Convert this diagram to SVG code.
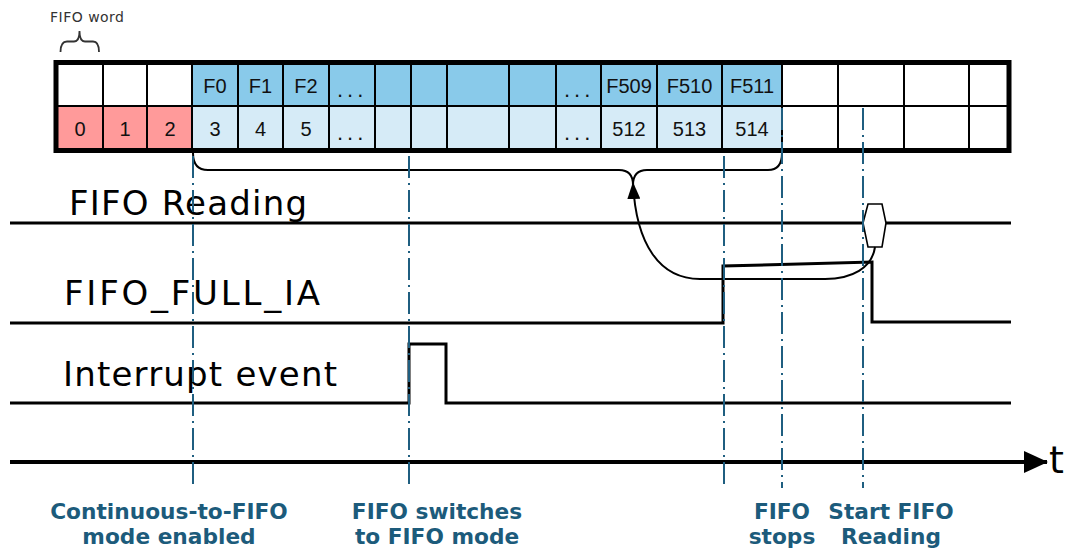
<svg xmlns="http://www.w3.org/2000/svg" width="1071" height="549" viewBox="0 0 1071 549">
<defs>
<style>
.cellt{font-family:"Liberation Sans",Arial,sans-serif;font-size:20px;fill:#111;text-anchor:middle}
.dots{font-family:"Liberation Sans",Arial,sans-serif;font-size:22px;fill:#111;letter-spacing:4px}
.sig{font-family:"DejaVu Sans",Verdana,sans-serif;font-size:34px;fill:#000}
.lbl{font-family:"DejaVu Sans",Verdana,sans-serif;font-size:21.7px;font-weight:bold;fill:#1C5B7B;text-anchor:middle}
.wave{fill:none;stroke:#000;stroke-width:3;stroke-linejoin:miter}
.grid{stroke:#000;stroke-width:2}
.mark{fill:none;stroke:#1F5E80;stroke-width:2;stroke-dasharray:22 5 2 5}
.dk{fill:#89CAEA}
.lt{fill:#D6EBF7}
.red{fill:#FF9A9A}
</style>
<marker id="ah" viewBox="0 0 17 13" refX="16" refY="6.5" markerWidth="17" markerHeight="13" markerUnits="userSpaceOnUse" orient="auto">
<path d="M0,0 L17,6.5 L0,13 z" fill="#000"/>
</marker>
<marker id="tah" viewBox="0 0 24 22" refX="23" refY="11" markerWidth="24" markerHeight="22" markerUnits="userSpaceOnUse" orient="auto">
<path d="M0,0 L24,11 L0,22 z" fill="#000"/>
</marker>
</defs>
<rect width="1071" height="549" fill="#fff"/>

<g id="fifo-word">
<text x="50" y="22" font-family="DejaVu Sans, Verdana, sans-serif" font-size="14" fill="#333" textLength="74">FIFO word</text>
<path d="M60.5,52 Q60.5,41.5 67,41.5 L74,41.5 Q79.5,41.5 79.5,31 Q79.5,41.5 85,41.5 L93,41.5 Q99,41.5 99,52" fill="none" stroke="#333" stroke-width="1.8"/>
</g>

<g id="fifo-table">
<rect x="58" y="64" width="134" height="42" fill="#fff"/>
<rect x="58" y="106" width="134" height="42" class="red"/>
<rect x="192" y="64" width="590" height="42" class="dk"/>
<rect x="192" y="106" width="590" height="42" class="lt"/>
<rect x="782" y="64" width="225" height="84" fill="#fff"/>
<g class="grid">
<line x1="58" y1="106" x2="1007" y2="106"/>
<line x1="103" y1="64" x2="103" y2="148"/>
<line x1="147" y1="64" x2="147" y2="148"/>
<line x1="192" y1="64" x2="192" y2="148"/>
<line x1="238" y1="64" x2="238" y2="148"/>
<line x1="283" y1="64" x2="283" y2="148"/>
<line x1="329" y1="64" x2="329" y2="148"/>
<line x1="375" y1="64" x2="375" y2="148"/>
<line x1="411" y1="64" x2="411" y2="148"/>
<line x1="447" y1="64" x2="447" y2="148"/>
<line x1="509" y1="64" x2="509" y2="148"/>
<line x1="556" y1="64" x2="556" y2="148"/>
<line x1="601" y1="64" x2="601" y2="148"/>
<line x1="657" y1="64" x2="657" y2="148"/>
<line x1="722" y1="64" x2="722" y2="148"/>
<line x1="782" y1="64" x2="782" y2="148"/>
<line x1="838" y1="64" x2="838" y2="148"/>
<line x1="904" y1="64" x2="904" y2="148"/>
<line x1="969" y1="64" x2="969" y2="148"/>
</g>
<rect x="56" y="62.5" width="953" height="88" fill="none" stroke="#000" stroke-width="5"/>
<text class="cellt" x="215" y="93">F0</text>
<text class="cellt" x="260.5" y="93">F1</text>
<text class="cellt" x="306" y="93">F2</text>
<text class="dots" x="337" y="97">...</text>
<text class="dots" x="564" y="97">...</text>
<text class="cellt" x="629" y="93">F509</text>
<text class="cellt" x="689.5" y="93">F510</text>
<text class="cellt" x="752" y="93">F511</text>
<text class="cellt" x="80" y="136">0</text>
<text class="cellt" x="125" y="136">1</text>
<text class="cellt" x="170" y="136">2</text>
<text class="cellt" x="215" y="136">3</text>
<text class="cellt" x="260.5" y="136">4</text>
<text class="cellt" x="306" y="136">5</text>
<text class="dots" x="337" y="140">...</text>
<text class="dots" x="564" y="140">...</text>
<text class="cellt" x="629" y="136">512</text>
<text class="cellt" x="689.5" y="136">513</text>
<text class="cellt" x="752" y="136">514</text>
</g>

<g id="signal-fifo-reading">
<text class="sig" x="69" y="215" textLength="238">FIFO Reading</text>
<path class="wave" d="M10,223 L1011,223"/>
<polygon points="863,223 868,204 882,204 886,223 882,247 868,247" fill="#fff" stroke="#000" stroke-width="1.6"/>
</g>

<g id="signal-fifo-full">
<text class="sig" x="64" y="305" textLength="256">FIFO_FULL_IA</text>
<path class="wave" d="M10,323 L723,323 L723,266 L872,262 L872,322 L1011,322"/>
</g>

<g id="signal-interrupt">
<text class="sig" x="63" y="386" textLength="274">Interrupt event</text>
<path class="wave" d="M10,403 L409,403 L409,344 L446,344 L446,403 L1011,403"/>
</g>

<g id="time-axis">
<line x1="10" y1="462" x2="1047" y2="462" stroke="#000" stroke-width="4" marker-end="url(#tah)"/>
<text x="1049" y="473" font-family="DejaVu Sans, Verdana, sans-serif" font-size="38" fill="#000">t</text>
</g>

<g id="connectors">
<path d="M193,153 Q193,170 208,170 L619,170 Q633,170 633,185 Q633,170 647,170 L768,170 Q782,170 782,153" fill="none" stroke="#000" stroke-width="2"/>
<path d="M875,247 C872,268 852,279 825,279 L700,279 C660,279 636,245 633,183" fill="none" stroke="#000" stroke-width="2" marker-end="url(#ah)"/>
<line class="mark" x1="193" y1="156" x2="193" y2="488"/>
<line class="mark" x1="409" y1="156" x2="409" y2="488"/>
<line class="mark" x1="724" y1="156" x2="724" y2="486"/>
<line class="mark" x1="782" y1="108" x2="782" y2="488"/>
<line class="mark" x1="863" y1="108" x2="863" y2="488"/>
</g>

<g id="labels">
<text class="lbl" x="169" y="519">Continuous-to-FIFO<tspan x="169" y="544">mode enabled</tspan></text>
<text class="lbl" x="437" y="519">FIFO switches<tspan x="437" y="544">to FIFO mode</tspan></text>
<text class="lbl" x="782" y="519">FIFO<tspan x="782" y="544">stops</tspan></text>
<text class="lbl" x="891" y="519">Start FIFO<tspan x="891" y="544">Reading</tspan></text>
</g>
</svg>
